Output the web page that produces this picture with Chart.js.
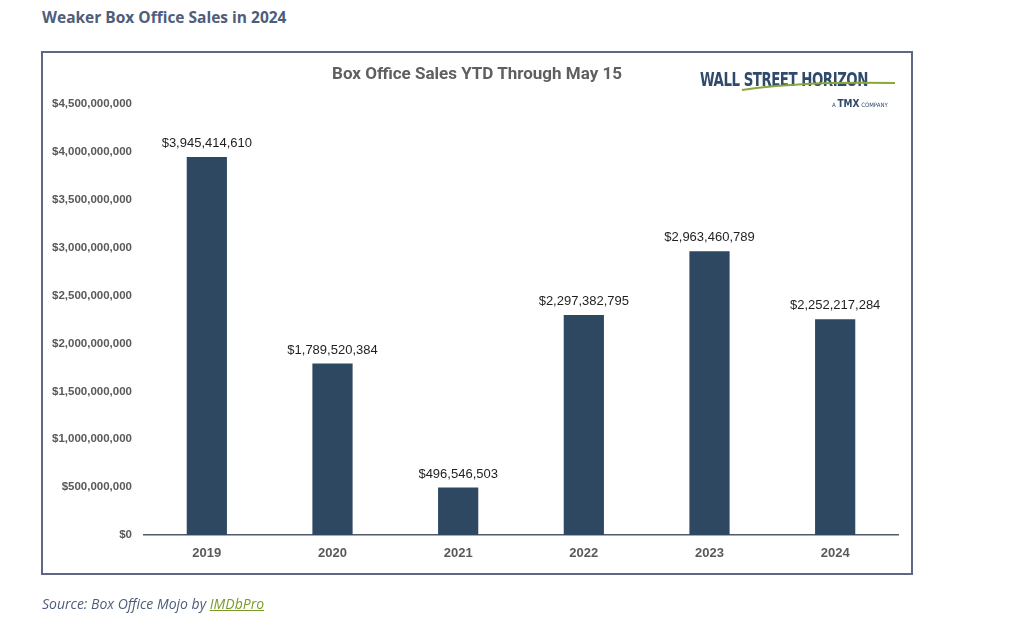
<!DOCTYPE html>
<html>
<head>
<meta charset="utf-8">
<script src="https://cdn.jsdelivr.net/npm/chart.js@4.4.1/dist/chart.umd.min.js"></script>
<style>
  html,body{margin:0;padding:0;background:#fff;width:1024px;height:628px;overflow:hidden;position:relative;}
  #c{position:absolute;left:0;top:0;}
  .hdr{position:absolute;left:42px;top:6px;font-family:"Open Sans",sans-serif;font-weight:700;font-size:15.5px;color:#4d5d7a;white-space:nowrap;}
  .frame{position:absolute;left:41px;top:51px;width:868px;height:520px;border:2px solid #5e6884;}
  .title{position:absolute;left:0;width:954px;top:63px;text-align:center;font-family:Roboto,sans-serif;font-weight:700;font-size:17px;color:#5f5f5f;white-space:nowrap;}
  .src{position:absolute;left:42px;top:594px;font-family:"Open Sans",sans-serif;font-style:italic;font-size:14px;color:#4d5d7a;white-space:nowrap;}
  .src span{color:#7a9b2b;text-decoration:underline;}
  .logo{position:absolute;left:700px;top:68px;font-family:"DejaVu Sans Condensed","DejaVu Sans",sans-serif;font-stretch:condensed;font-weight:700;font-size:19px;color:#2f4a6b;letter-spacing:-0.6px;white-space:nowrap;transform-origin:0 0;transform:scaleX(0.78);}
  .tmx{position:absolute;left:832px;top:98px;font-family:"DejaVu Sans Condensed",sans-serif;font-size:6px;color:#2f4a6b;white-space:nowrap;}
  .tmx b{font-size:10px;}
  svg.sw{position:absolute;left:740px;top:75px;}
</style>
</head>
<body>
<div class="hdr">Weaker Box Office Sales in 2024</div>
<div class="frame"></div>
<canvas id="c" width="1024" height="628"></canvas>
<div class="title">Box Office Sales YTD Through May 15</div>
<div class="logo">WALL STREET HORIZON</div>
<svg class="sw" width="160" height="20"><path d="M2 15 Q 60 6 155 8" stroke="#8aa83a" stroke-width="2" fill="none"/></svg>
<div class="tmx">A <b>TMX</b> COMPANY</div>
<div class="src">Source: Box Office Mojo by <span>IMDbPro</span></div>
<script>
const categories = ["2019","2020","2021","2022","2023","2024"];
const sales = [3945414610, 1789520384, 496546503, 2297382795, 2963460789, 2252217284];
const yMax = 4500000000;
const yStep = 500000000;

const fmt = v => "$" + Math.round(v).toLocaleString("en-US");

const labelPlugin = {
  id: "barLabels",
  afterDatasetsDraw(chart) {
    const ctx = chart.ctx;
    const meta = chart.getDatasetMeta(0);
    ctx.save();
    ctx.font = "13px 'Liberation Sans', Arial, sans-serif";
    ctx.fillStyle = "#1f1f1f";
    ctx.textAlign = "center";
    ctx.textBaseline = "bottom";
    meta.data.forEach((bar, i) => {
      ctx.fillText(fmt(sales[i]), bar.x, bar.y - 7);
    });
    ctx.restore();
  }
};

new Chart(document.getElementById("c"), {
  type: "bar",
  data: {
    labels: categories,
    datasets: [{
      data: sales,
      backgroundColor: "#2f4862",
      categoryPercentage: 1.0,
      barPercentage: 0.32
    }]
  },
  options: {
    responsive: false,
    animation: false,
    layout: { padding: { left: 40, right: 126, top: 104, bottom: 63 } },
    plugins: { legend: { display: false }, tooltip: { enabled: false }, title: { display: false } },
    scales: {
      x: {
        grid: { display: false, drawTicks: false },
        border: { display: true, color: "#4f5b6b", width: 1.5 },
        ticks: { color: "#595959", font: { family: "'Liberation Sans', Arial, sans-serif", size: 13, weight: "bold" }, padding: 11 },
        afterFit(s) { s.height = 30; }
      },
      y: {
        min: 0, max: yMax,
        grid: { display: false, drawTicks: false },
        border: { display: false },
        ticks: {
          stepSize: yStep,
          color: "#595959",
          padding: 12,
          font: { family: "'Liberation Sans', Arial, sans-serif", size: 11.5, weight: "bold" },
          callback: v => fmt(v)
        },
        afterFit(s) { s.width = 104; }
      }
    }
  },
  plugins: [labelPlugin]
});
</script>
</body>
</html>
